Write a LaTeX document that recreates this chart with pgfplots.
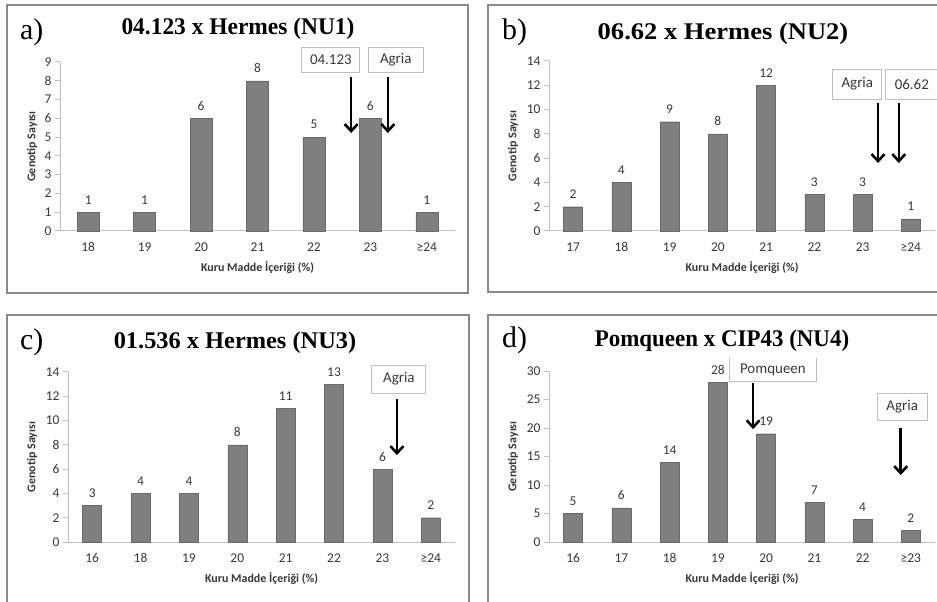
\documentclass[border=0pt]{standalone}
\usepackage{pgfplots}
\pgfplotsset{compat=1.18}
\usepackage{graphicx}
\usepackage{fontspec}
\setmainfont{Liberation Serif}
\newfontfamily\calib{Carlito}
\usetikzlibrary{arrows.meta}

\definecolor{barfill}{HTML}{7F7F7F}
\definecolor{bardraw}{HTML}{6A6A6A}
\definecolor{axgray}{HTML}{BFBFBF}
\definecolor{framegray}{HTML}{8A8A8A}
\definecolor{txt}{HTML}{383838}

\pgfplotsset{
 panel/.style={
  scale only axis, clip=false,
  axis lines*=left,
  axis line style={draw=axgray, line width=1bp},
  ybar, ymin=0,
  xtick=data, xmin=-0.5,
  enlargelimits=false,
  tick align=outside,
  major tick length=5bp,
  x tick style={draw=none},
  y tick style={draw=axgray, line width=1bp},
  /pgf/number format/assume math mode=true,
  ticklabel style={font=\calib\fontsize{13.5}{15}\selectfont, text=txt},
  xticklabel style={yshift=-3bp},
  nodes near coords,
  every node near coord/.append style={font=\calib\fontsize{13.5}{15}\selectfont, text=txt, yshift=4.5bp},
  xlabel={Kuru Madde İçeriği (\%)},
  ylabel={Genotip Sayısı},
  xlabel style={font=\calib\bfseries\fontsize{12}{14}\selectfont, text=txt, at={([yshift=-37bp]axis description cs:0.5,0)}, anchor=center},
  ylabel style={font=\calib\bfseries\fontsize{12}{14}\selectfont, text=txt, anchor=center},
 },
}
\tikzset{
 ann/.style={draw=axgray, fill=white, line width=1bp, font=\calib\fontsize{15}{17}\selectfont, text=txt, inner sep=0pt},
 arr/.style={line width=2.6bp, -{Straight Barb[length=7bp,width=13bp]}},
}

\begin{document}
\begin{tikzpicture}
\useasboundingbox (0bp,0bp) rectangle (937bp,602bp);
\clip (0bp,0bp) rectangle (937bp,602bp);
\fill[white] (0bp,0bp) rectangle (937bp,602bp);
% frames
\draw[framegray, line width=1.3bp] (7bp,309bp) rectangle (468bp,597bp);
\draw[framegray, line width=1.3bp] (488bp,310bp) rectangle (945bp,597bp);
\draw[framegray, line width=1.3bp] (7bp,-10bp) rectangle (469bp,287bp);
\draw[framegray, line width=1.3bp] (488bp,-10bp) rectangle (945bp,287bp);

% panel a
\begin{axis}[panel, at={(60bp,371bp)}, width=395bp, height=169bp,
  xmax=6.5, ymax=9, ytick={0,1,...,9}, bar width=22bp,
  xticklabels={18,19,20,21,22,23,≥24},
  ylabel style={at={([xshift=-28bp]axis description cs:0,0.5)}}]
\addplot[fill=barfill, draw=bardraw] coordinates {(0,1) (1,1) (2,6) (3,8) (4,5) (5,6) (6,1)};
\node[ann, minimum width=58bp, minimum height=25bp] at (axis cs:4.30,9.13) {04.123};
\node[ann, minimum width=55bp, minimum height=25bp] at (axis cs:5.45,9.13) {Agria};
\draw[arr] (axis cs:4.66,8.2) -- (axis cs:4.66,5.22);
\draw[arr] (axis cs:5.31,8.2) -- (axis cs:5.31,5.22);
\end{axis}

% panel b
\begin{axis}[panel, at={(549bp,371bp)}, width=386bp, height=170bp,
  xmax=7.5, ymax=14, ytick={0,2,...,14}, bar width=19bp,
  xticklabels={17,18,19,20,21,22,23,≥24},
  ylabel style={at={([xshift=-36bp]axis description cs:0,0.5)}}]
\addplot[fill=barfill, draw=bardraw] coordinates {(0,2) (1,4) (2,9) (3,8) (4,12) (5,3) (6,3) (7,1)};
\node[ann, minimum width=49bp, minimum height=30bp] at (axis cs:5.89,12.1) {Agria};
\node[ann, minimum width=52bp, minimum height=30bp] at (axis cs:7.02,12.1) {06.62};
\draw[arr] (axis cs:6.32,10.54) -- (axis cs:6.32,5.6);
\draw[arr] (axis cs:6.75,10.54) -- (axis cs:6.75,5.6);
\end{axis}

% panel c
\begin{axis}[panel, at={(68bp,60bp)}, width=387bp, height=170bp,
  xmax=7.5, ymax=14, ytick={0,2,...,14}, bar width=19bp,
  xticklabels={16,18,19,20,21,22,23,≥24},
  ylabel style={at={([xshift=-36bp]axis description cs:0,0.5)}}]
\addplot[fill=barfill, draw=bardraw] coordinates {(0,3) (1,4) (2,4) (3,8) (4,11) (5,13) (6,6) (7,2)};
\node[ann, minimum width=54bp, minimum height=28bp] at (axis cs:6.34,13.42) {Agria};
\draw[arr] (axis cs:6.30,11.78) -- (axis cs:6.30,7.16);
\end{axis}

% panel d
\begin{axis}[panel, at={(549bp,60bp)}, width=386bp, height=171bp,
  xmax=7.5, ymax=30, ytick={0,5,...,30}, bar width=19bp,
  xticklabels={16,17,18,19,20,21,22,≥23},
  ylabel style={at={([xshift=-36bp]axis description cs:0,0.5)}}]
\addplot[fill=barfill, draw=bardraw] coordinates {(0,5) (1,6) (2,14) (3,28) (4,19) (5,7) (6,4) (7,2)};
\node[fill=white, inner sep=0pt, minimum width=86bp, minimum height=23bp, font=\calib\fontsize{15}{17}\selectfont, text=txt] (pq) at (axis cs:4.14,30.26) {Pomqueen};
\draw[axgray, line width=1bp] (pq.north west) -- (pq.south west) -- (pq.south east) -- (pq.north east);
\draw[arr] (axis cs:3.73,27.9) -- (axis cs:3.73,19.8);
\node[ann, minimum width=50bp, minimum height=27bp] at (axis cs:6.82,23.77) {Agria};
\draw[arr] (axis cs:6.79,20) -- (axis cs:6.79,11.75);
\end{axis}

% titles
\node[anchor=base, font=\bfseries\fontsize{24}{28}\selectfont] at (238bp,567bp) {\scalebox{0.98}[1]{04.123 x Hermes (NU1)}};
\node[anchor=base, font=\bfseries\fontsize{24}{28}\selectfont] at (723bp,562bp) {\scalebox{1.11}[1]{06.62 x Hermes (NU2)}};
\node[anchor=base, font=\bfseries\fontsize{24}{28}\selectfont] at (235bp,253bp) {\scalebox{1.02}[1]{01.536 x Hermes (NU3)}};
\node[anchor=base, font=\bfseries\fontsize{24}{28}\selectfont] at (722bp,255bp) {\scalebox{0.96}[1]{Pomqueen x CIP43 (NU4)}};
% panel letters
\node[anchor=base west, inner sep=0pt, font=\fontsize{30}{34}\selectfont] at (20bp,562bp) {a)};
\node[anchor=base west, inner sep=0pt, font=\fontsize{30}{34}\selectfont] at (502bp,562bp) {b)};
\node[anchor=base west, inner sep=0pt, font=\fontsize{30}{34}\selectfont] at (20bp,252bp) {c)};
\node[anchor=base west, inner sep=0pt, font=\fontsize{30}{34}\selectfont] at (502bp,254bp) {d)};
\end{tikzpicture}
\end{document}
